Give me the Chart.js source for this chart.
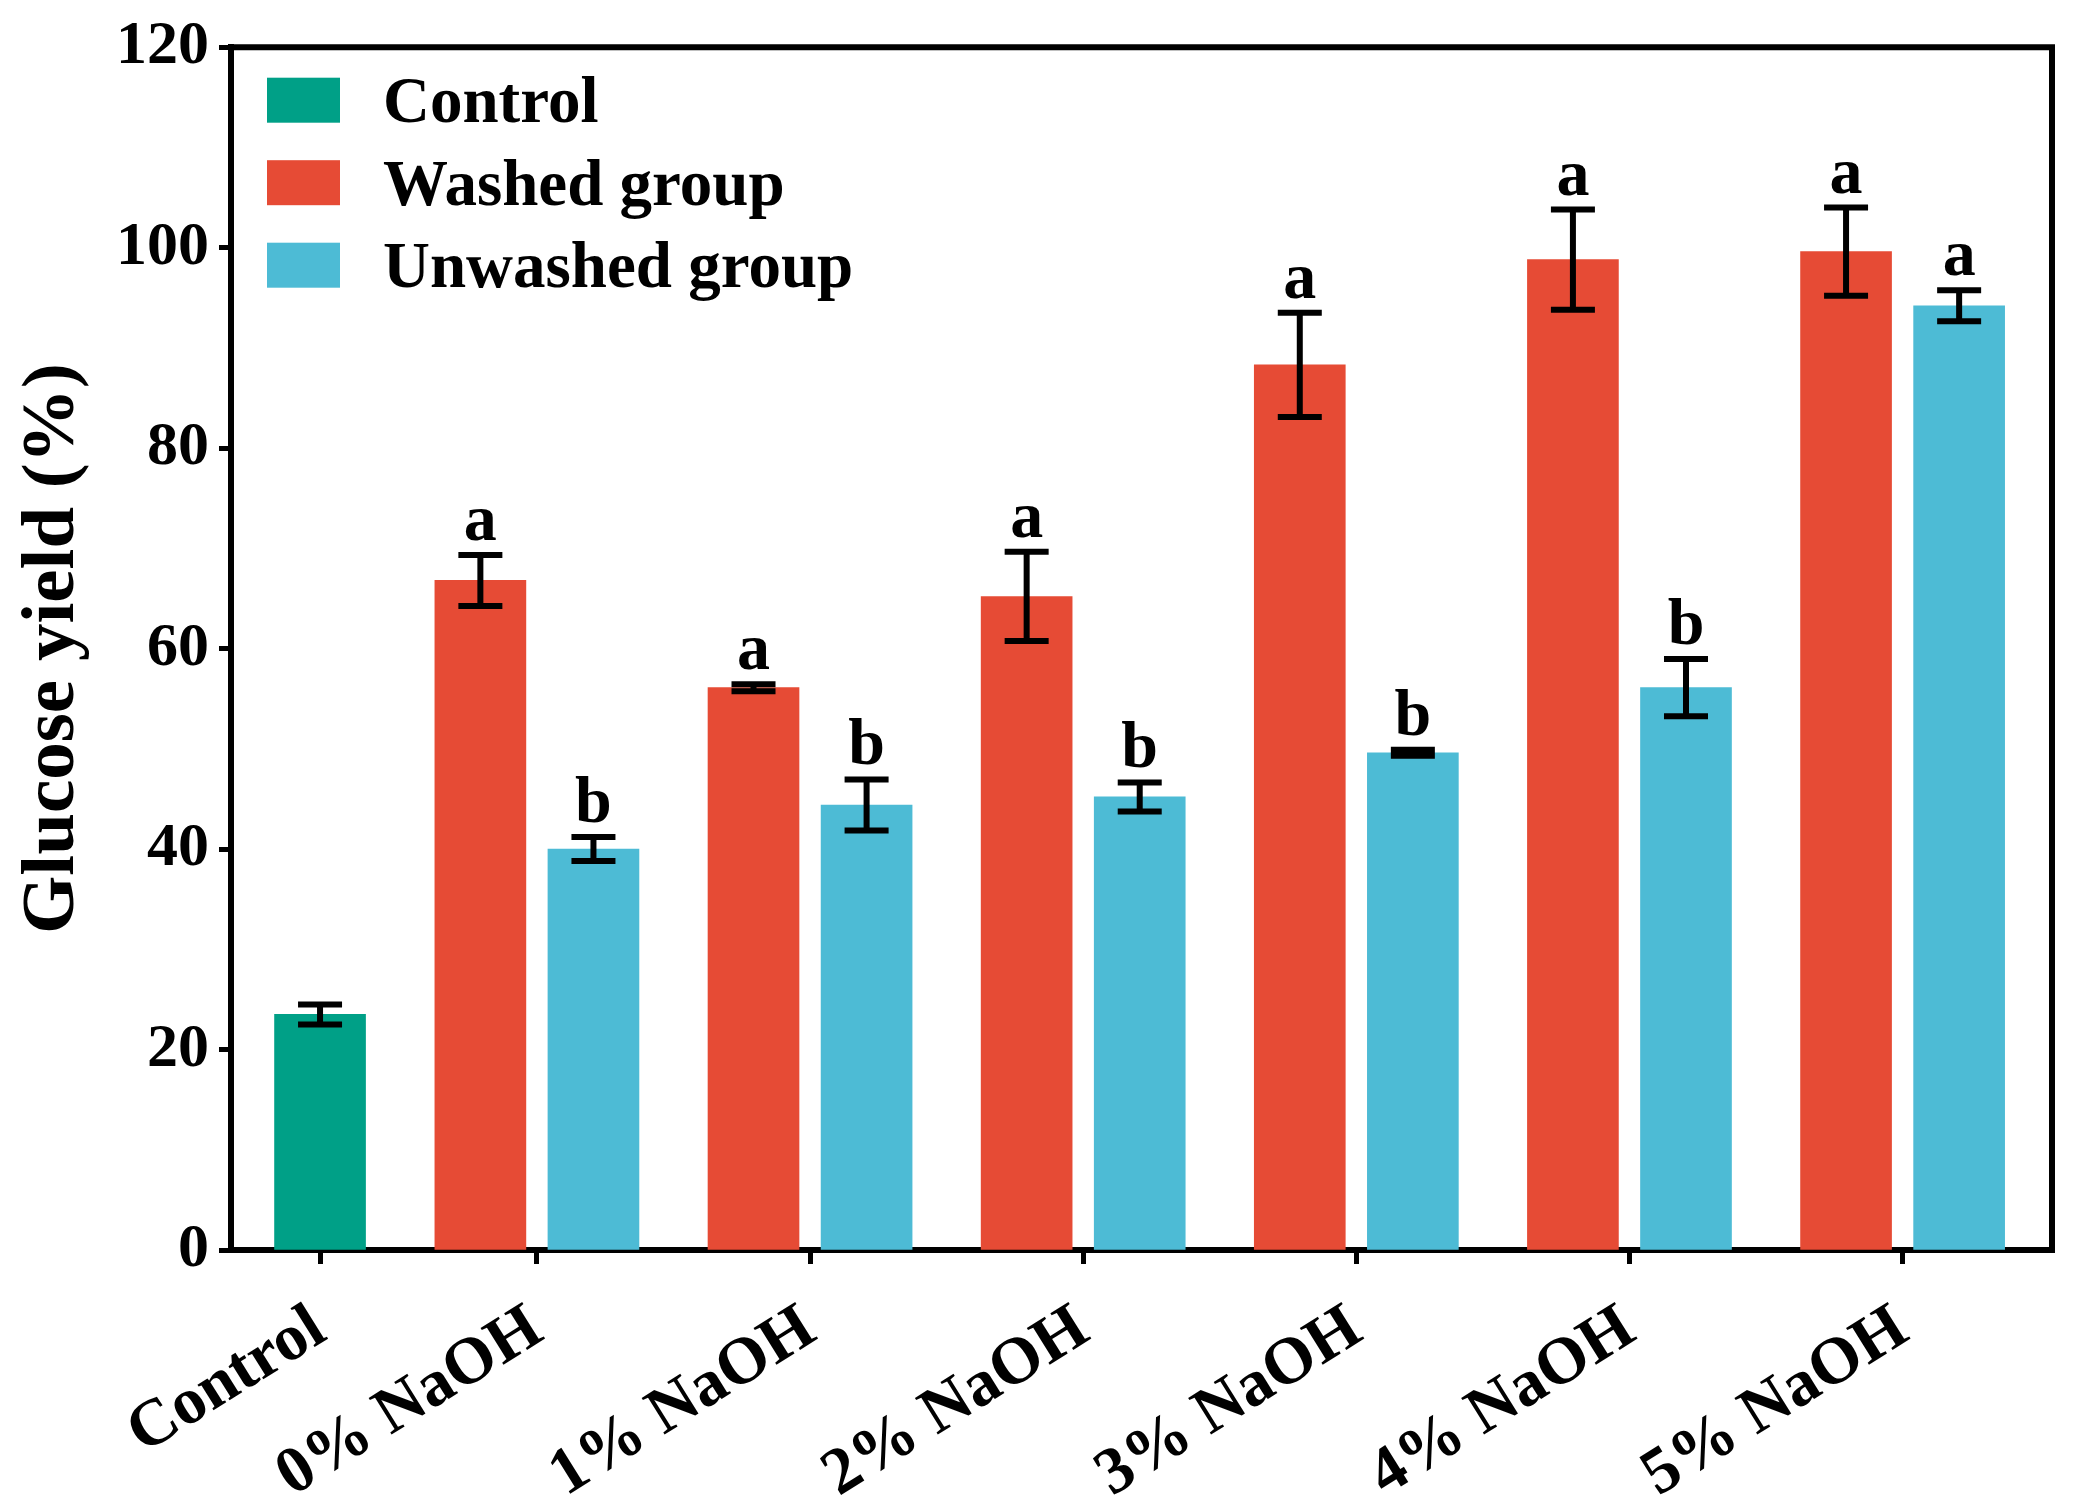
<!DOCTYPE html>
<html lang="en">
<head>
<meta charset="utf-8">
<script src="https://cdn.jsdelivr.net/npm/chart.js"></script>
<title>Glucose yield</title>
<style>
  html, body { margin: 0; padding: 0; background: #fff; }
  .chart-container { width: 2079px; height: 1507px; position: relative; }
</style>
</head>
<body>
<div class="chart-container"><canvas id="yieldChart"></canvas></div>
<script>
const categories = ['Control', '0% NaOH', '1% NaOH', '2% NaOH', '3% NaOH', '4% NaOH', '5% NaOH'];
const controlYield = [23.5];
const controlSD = [1.0];
const washedYield = [66.8, 56.1, 65.2, 88.3, 98.8, 99.6];
const washedSD = [2.55, 0.35, 4.45, 5.2, 5.0, 4.4];
const washedLetters = ['a', 'a', 'a', 'a', 'a', 'a'];
const unwashedYield = [40.0, 44.4, 45.2, 49.6, 56.1, 94.2];
const unwashedSD = [1.2, 2.55, 1.45, 0.3, 2.85, 1.55];
const unwashedLetters = ['b', 'b', 'b', 'b', 'b', 'a'];
const yTicks = [0, 20, 40, 60, 80, 100, 120];

// layout only: where each group sits on the x axis (Control sits closer to 0%)
const groupPos = [0.206, 1, 2, 3, 4, 5, 6];
const pairOffset = 0.207;
const FONT = '"Liberation Serif", "Times New Roman", serif';

const errorBarPlugin = {
  id: 'errorBars',
  afterDatasetsDraw(chart) {
    const ctx = chart.ctx;
    const yScale = chart.scales.y;
    ctx.save();
    ctx.strokeStyle = '#000';
    ctx.fillStyle = '#000';
    ctx.lineWidth = 6;
    ctx.font = 'bold 66px ' + FONT;
    ctx.textAlign = 'center';
    ctx.textBaseline = 'alphabetic';
    chart.data.datasets.forEach((ds, i) => {
      chart.getDatasetMeta(i).data.forEach((bar, j) => {
        const v = ds.data[j].y, e = ds.errors[j];
        const top = yScale.getPixelForValue(v + e);
        const bot = yScale.getPixelForValue(v - e);
        ctx.beginPath();
        ctx.moveTo(bar.x, top); ctx.lineTo(bar.x, bot);
        ctx.moveTo(bar.x - 22, top); ctx.lineTo(bar.x + 22, top);
        ctx.moveTo(bar.x - 22, bot); ctx.lineTo(bar.x + 22, bot);
        ctx.stroke();
        if (ds.letters[j]) ctx.fillText(ds.letters[j], bar.x, top - 15);
      });
    });
    ctx.restore();
  },
  afterDraw(chart) {
    const ctx = chart.ctx;
    const ca = chart.chartArea;
    ctx.save();
    // top and right sides of the frame
    ctx.strokeStyle = '#000';
    ctx.lineWidth = 6;
    ctx.beginPath();
    ctx.moveTo(ca.left - 3, ca.top);
    ctx.lineTo(ca.right, ca.top);
    ctx.lineTo(ca.right, ca.bottom + 3);
    ctx.stroke();
    // legend inside the plot
    ctx.font = 'bold 65px ' + FONT;
    ctx.textAlign = 'left';
    ctx.textBaseline = 'alphabetic';
    chart.data.datasets.forEach((ds, i) => {
      const cy = ca.top + 53 + i * 82.5;
      ctx.fillStyle = ds.backgroundColor;
      ctx.fillRect(ca.left + 36, cy - 22.5, 73, 45);
      ctx.fillStyle = '#000';
      ctx.fillText(ds.label, ca.left + 152, cy + 22);
    });
    ctx.restore();
  }
};

const ctx = document.getElementById('yieldChart').getContext('2d');
const yieldChart = new Chart(ctx, {
  type: 'bar',
  data: {
    datasets: [
      {
        label: 'Control',
        data: controlYield.map(v => ({ x: groupPos[0], y: v })),
        errors: controlSD,
        letters: [],
        backgroundColor: '#00A087'
      },
      {
        label: 'Washed group',
        data: washedYield.map((v, i) => ({ x: groupPos[i + 1] - pairOffset, y: v })),
        errors: washedSD,
        letters: washedLetters,
        backgroundColor: '#E64B35'
      },
      {
        label: 'Unwashed group',
        data: unwashedYield.map((v, i) => ({ x: groupPos[i + 1] + pairOffset, y: v })),
        errors: unwashedSD,
        letters: unwashedLetters,
        backgroundColor: '#4DBBD5'
      }
    ]
  },
  options: {
    responsive: true,
    maintainAspectRatio: false,
    devicePixelRatio: 1,
    animation: false,
    layout: { padding: { top: 42, right: 27, left: 0, bottom: 0 } },
    datasets: { bar: { grouped: false, barThickness: 91, borderWidth: 0 } },
    plugins: {
      legend: { display: false },
      tooltip: { enabled: false }
    },
    scales: {
      x: {
        type: 'linear',
        offset: false,
        min: -0.12,
        max: 6.547,
        afterBuildTicks: axis => { axis.ticks = groupPos.map(v => ({ value: v })); },
        afterFit: axis => { axis.height = 257; },
        grid: { offset: false, drawOnChartArea: false, drawTicks: true, tickLength: 14, tickWidth: 5, color: '#000' },
        border: { display: true, color: '#000', width: 6 },
        ticks: {
          autoSkip: false,
          minRotation: 32,
          maxRotation: 32,
          padding: 26,
          color: '#000',
          font: { family: FONT, size: 66, weight: 'bold' },
          callback: (v, i) => categories[i]
        }
      },
      y: {
        min: 0,
        max: 120,
        afterBuildTicks: axis => { axis.ticks = yTicks.map(v => ({ value: v })); },
        afterFit: axis => { axis.width = 231; },
        grid: { drawOnChartArea: false, drawTicks: true, tickLength: 12, tickWidth: 5, color: '#000' },
        border: { display: true, color: '#000', width: 6 },
        ticks: {
          padding: 10,
          color: '#000',
          font: { family: FONT, size: 62, weight: 'bold' }
        },
        title: {
          display: true,
          text: 'Glucose yield (%)',
          color: '#000',
          font: { family: FONT, size: 75, weight: 'bold' },
          padding: { top: 9, bottom: 0 }
        }
      }
    }
  },
  plugins: [errorBarPlugin]
});
</script>
</body>
</html>
